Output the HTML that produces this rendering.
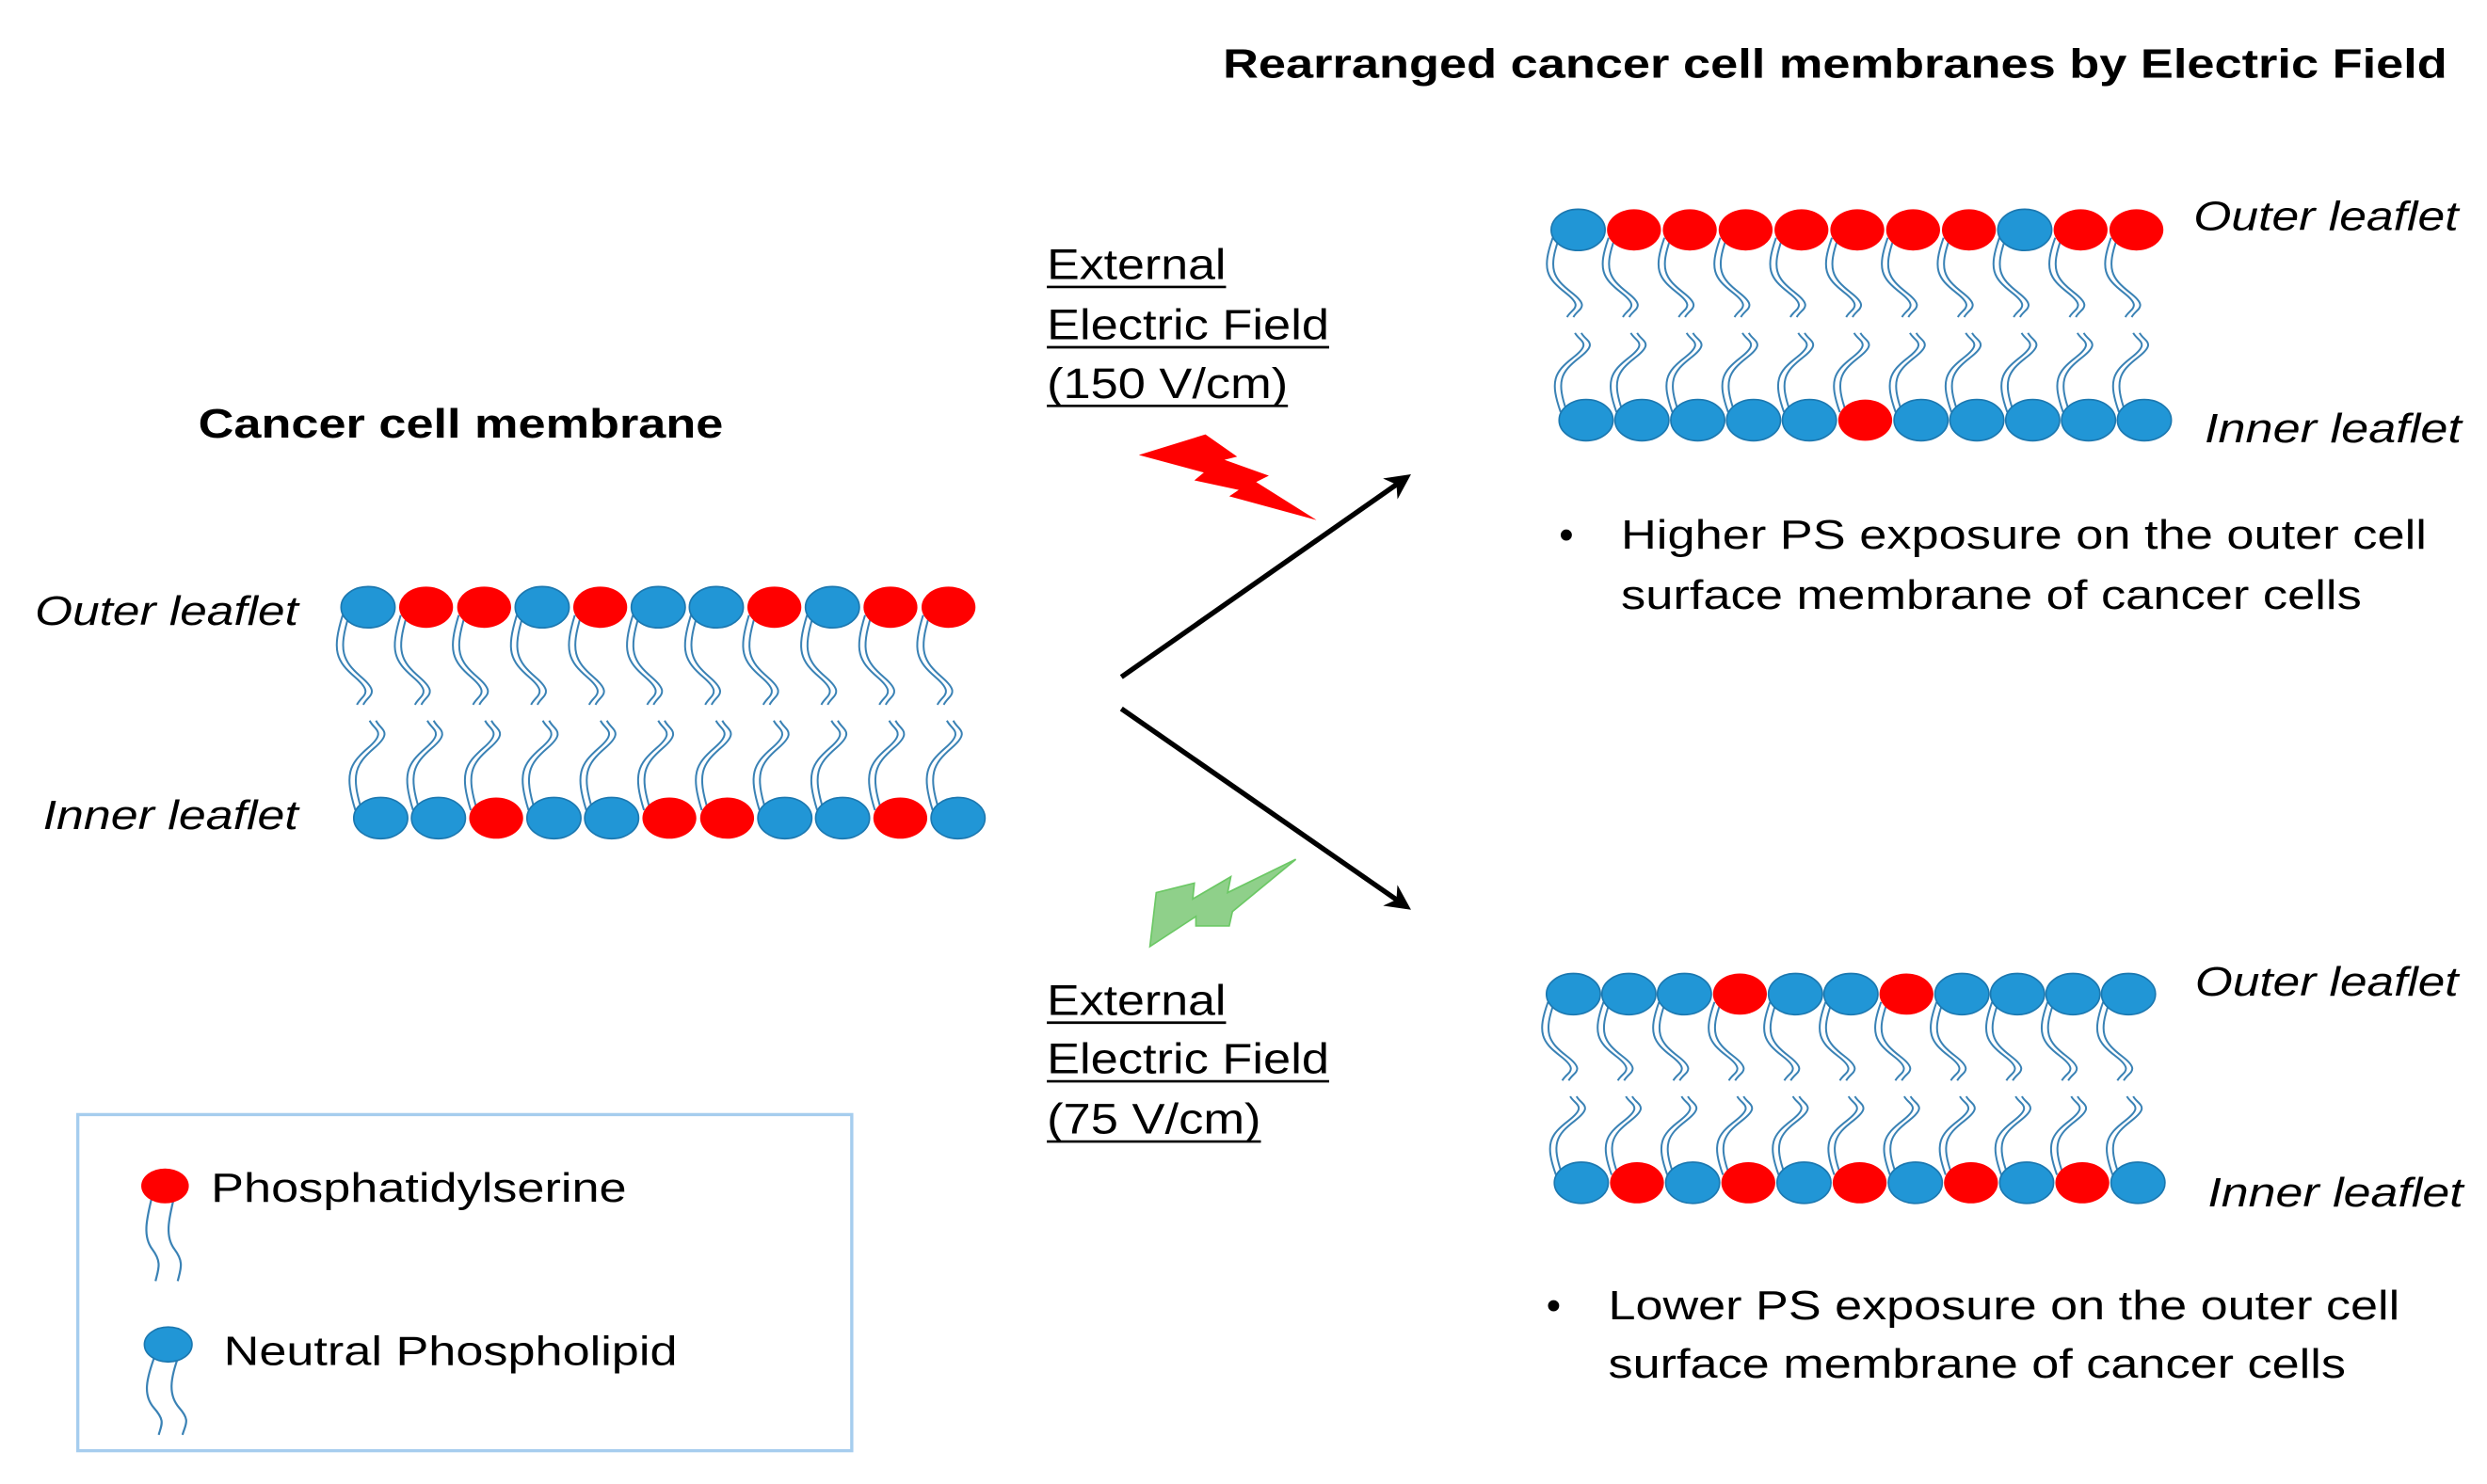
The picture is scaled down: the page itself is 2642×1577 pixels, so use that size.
<!DOCTYPE html>
<html><head><meta charset="utf-8"><style>
html,body{margin:0;padding:0;background:#fff;}
svg{display:block;}
text{font-family:"Liberation Sans",Arial,sans-serif;fill:#000;}
</style></head><body>
<svg id="s" width="2642" height="1577" viewBox="0 0 1568 936" xmlns="http://www.w3.org/2000/svg">
<defs>
<marker id="ah" viewBox="0 0 10 10" refX="8" refY="5" markerWidth="5" markerHeight="5" orient="auto">
<path d="M0,0 L10,5 L0,10 L3,5 Z" fill="#000"/>
</marker>
</defs>
<rect width="1568" height="936" fill="#fff"/>
<g id="mem"></g>

<text x="771" y="49" font-size="26" font-weight="bold" textLength="772" lengthAdjust="spacingAndGlyphs">Rearranged cancer cell membranes by Electric Field</text>
<text x="125" y="276" font-size="26" font-weight="bold" textLength="331" lengthAdjust="spacingAndGlyphs">Cancer cell membrane</text>

<g font-style="italic" font-size="26">
<text x="22" y="394" textLength="166" lengthAdjust="spacingAndGlyphs">Outer leaflet</text>
<text x="27" y="523" textLength="161" lengthAdjust="spacingAndGlyphs">Inner leaflet</text>
<text x="1383" y="145" textLength="167" lengthAdjust="spacingAndGlyphs">Outer leaflet</text>
<text x="1390" y="279" textLength="162" lengthAdjust="spacingAndGlyphs">Inner leaflet</text>
<text x="1384" y="628" textLength="166" lengthAdjust="spacingAndGlyphs">Outer leaflet</text>
<text x="1392" y="761" textLength="161" lengthAdjust="spacingAndGlyphs">Inner leaflet</text>
</g>

<g font-size="27">
<text x="660" y="176" textLength="113" lengthAdjust="spacingAndGlyphs">External</text>
<text x="660" y="214" textLength="178" lengthAdjust="spacingAndGlyphs">Electric Field</text>
<text x="660" y="251" textLength="152" lengthAdjust="spacingAndGlyphs">(150 V/cm)</text>
<text x="660" y="640" textLength="113" lengthAdjust="spacingAndGlyphs">External</text>
<text x="660" y="677" textLength="178" lengthAdjust="spacingAndGlyphs">Electric Field</text>
<text x="660" y="715" textLength="135" lengthAdjust="spacingAndGlyphs">(75 V/cm)</text>
</g>
<g stroke="#000" stroke-width="1.6">
<line x1="660" y1="181" x2="773" y2="181"/>
<line x1="660" y1="219" x2="838" y2="219"/>
<line x1="660" y1="256" x2="812" y2="256"/>
<line x1="660" y1="645" x2="773" y2="645"/>
<line x1="660" y1="682" x2="838" y2="682"/>
<line x1="660" y1="720" x2="795" y2="720"/>
</g>

<polygon points="718,287 760,274 780,288 772,290 800,300 792,304 830,328 775,313 781,309 753,303 759,298" fill="#ff0000"/>
<polygon points="725,597 729,563 753,557 752,567 776,553 774,563 817,542 777,575 775,584 754,584 754,578" fill="#8fd08a" stroke="#6cc865" stroke-width="1"/>

<line x1="707" y1="427" x2="887" y2="301" stroke="#000" stroke-width="3.2" marker-end="url(#ah)"/>
<line x1="707" y1="447" x2="887" y2="572" stroke="#000" stroke-width="3.2" marker-end="url(#ah)"/>

<g font-size="26">
<text x="983" y="346" font-size="26">•</text>
<text x="1022" y="346" textLength="508" lengthAdjust="spacingAndGlyphs">Higher PS exposure on the outer cell</text>
<text x="1022" y="384" textLength="467" lengthAdjust="spacingAndGlyphs">surface membrane of cancer cells</text>
<text x="975" y="832" font-size="26">•</text>
<text x="1014" y="832" textLength="499" lengthAdjust="spacingAndGlyphs">Lower PS exposure on the outer cell</text>
<text x="1014" y="869" textLength="465" lengthAdjust="spacingAndGlyphs">surface membrane of cancer cells</text>
</g>

<rect x="49" y="703" width="488" height="212" fill="none" stroke="#a6cdee" stroke-width="2"/>
<g fill="none" stroke="#3a82b5" stroke-width="1.3">
<path d="M96,754 C92,770 90,780 96,788 S100,800 98,808"/>
<path d="M110,754 C106,770 104,780 110,788 S114,800 112,808"/>
<path d="M98,854 C92,870 90,880 97,888 S102,898 100,905"/>
<path d="M113,854 C107,870 106,880 113,888 S117,898 115,905"/>
</g>
<ellipse cx="104" cy="748" rx="15" ry="11" fill="#ff0000"/>
<ellipse cx="106" cy="848" rx="15" ry="11" fill="#2196d6" stroke="#1c78b0" stroke-width="1"/>
<text x="133" y="758" font-size="26" textLength="262" lengthAdjust="spacingAndGlyphs">Phosphatidylserine</text>
<text x="141" y="861" font-size="26" textLength="286" lengthAdjust="spacingAndGlyphs">Neutral Phospholipid</text>
</svg>
<script>
(function(){
var NS="http://www.w3.org/2000/svg",g=document.getElementById("mem");
function el(t,a){var e=document.createElementNS(NS,t);for(var k in a)e.setAttribute(k,a[k]);g.appendChild(e);return e;}
function mem(x0,x1,yt,bx0,bx1,yb,topC,botC){
 var n=11,mid=(yt+yb)/2;
 for(var i=0;i<n;i++){
  var cx=x0+(x1-x0)*i/(n-1), bx=bx0+(bx1-bx0)*i/(n-1);
  var e1=mid-5, s2=mid+5;
  for(var k=0;k<2;k++){
   var o=k*4;
   var h=e1-yt;
   el("path",{d:"M"+(cx-16+o)+","+(yt+5)+" C"+(cx-23+o)+","+(yt+h*0.45)+" "+(cx-20+o)+","+(yt+h*0.55)+" "+(cx-8+o)+","+(yt+h*0.72)+" S"+(cx-4+o)+","+(yt+h*0.9)+" "+(cx-7+o)+","+e1,fill:"none",stroke:"#3a82b5","stroke-width":1.2});
   var h2=yb-s2;
   el("path",{d:"M"+(bx-16+o)+","+(yb-5)+" C"+(bx-23+o)+","+(yb-h2*0.45)+" "+(bx-20+o)+","+(yb-h2*0.55)+" "+(bx-8+o)+","+(yb-h2*0.72)+" S"+(bx-4+o)+","+(yb-h2*0.9)+" "+(bx-7+o)+","+s2,fill:"none",stroke:"#3a82b5","stroke-width":1.2});
  }
 }
 for(var i=0;i<n;i++){
  var cx=x0+(x1-x0)*i/(n-1), bx=bx0+(bx1-bx0)*i/(n-1);
  var r=topC[i]=="R";
  el("ellipse",{cx:cx,cy:yt,rx:17,ry:13,fill:r?"#ff0000":"#2196d6",stroke:r?"none":"#1c78b0","stroke-width":1});
  r=botC[i]=="R";
  el("ellipse",{cx:bx,cy:yb,rx:17,ry:13,fill:r?"#ff0000":"#2196d6",stroke:r?"none":"#1c78b0","stroke-width":1});
 }
}
mem(232,598,383,240,604,516,"BRRBRBBRBRR","BBRBBRRBBRB");
mem(995,1347,145,1000,1352,265,"BRRRRRRRBRR","BBBBBRBBBBB");
mem(992,1342,627,997,1348,746,"BBBRBBRBBBB","BRBRBRBRBRB");
})();
</script>
</body></html>
